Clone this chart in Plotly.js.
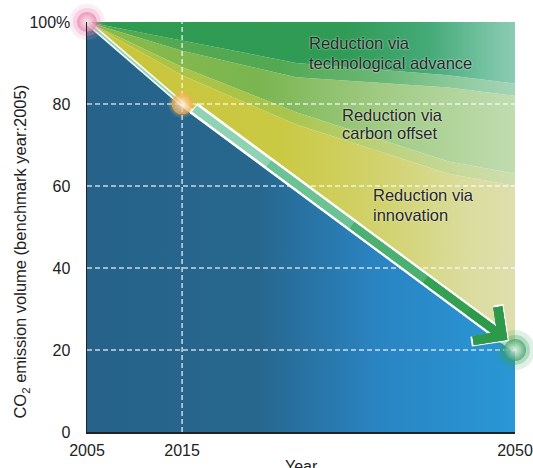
<!DOCTYPE html>
<html>
<head>
<meta charset="utf-8">
<script src="https://cdn.plot.ly/plotly-3.0.1.min.js"></script>
<style>html,body{margin:0;padding:0;background:#fff;}#chart{width:533px;height:468px;}</style>
</head>
<body>
<div id="chart"></div>
<script>
// ---- data ----
var years = [2005, 2015, 2050];
var emission = [100, 80, 20];            // CO2 emission volume (2005 = 100)

// band boundaries of the reduction areas
var bandYears = [2005, 2015, 2027, 2043, 2050];
var innovTop  = [100, 87, 75, 63, 60];   // upper edge of "innovation" band
var offsetLow = [100, 89, 78, 66, 63];   // lower edge of "carbon offset" band
var offsetTop = [100, 93, 86.5, 84, 82]; // upper edge of "carbon offset" band
var techLow   = [100, 95.5, 90, 87, 85]; // lower edge of "technological advance" band

var xTicks = [2005, 2015, 2050];
var xTickText = ['2005', '2015', '2050'];
var yTicks = [0, 20, 40, 60, 80, 100];
var yTickText = ['0', '20', '40', '60', '80', '100%'];
var gridY = [20, 40, 60, 80];
var gridX = [2015];

var labelLines = ['Reduction via', 'technological advance',
                  'Reduction via', 'carbon offset',
                  'Reduction via', 'innovation'];
var labelX = [2028.1, 2028.1, 2031.6, 2031.6, 2034.9, 2034.9];
var labelY = [94.9, 90.1, 77.3, 72.9, 57.8, 52.9];

var xRange = [xTicks[0], xTicks[xTicks.length - 1]];
var yRange = [yTicks[0], yTicks[yTicks.length - 1]];

function rev(a) { return a.slice().reverse(); }
function band(xLow, yLow, xHigh, yHigh, scale) {
  return {
    x: xLow.concat(rev(xHigh)), y: yLow.concat(rev(yHigh)),
    type: 'scatter', mode: 'lines', fill: 'toself',
    line: {width: 0, color: 'rgba(0,0,0,0)'},
    fillgradient: {type: 'horizontal', colorscale: scale},
    hoverinfo: 'skip', showlegend: false
  };
}

var traces = [];

// blue area under emission path
traces.push({
  x: years, y: emission, type: 'scatter', mode: 'lines', fill: 'tozeroy',
  line: {width: 0, color: 'rgba(0,0,0,0)'},
  fillgradient: {type: 'horizontal', colorscale: [
    [0, '#26628a'], [0.4, '#27678e'], [0.68, '#2a84c2'], [1, '#2a97d6']]},
  hoverinfo: 'skip', showlegend: false
});

// innovation band
traces.push(band(years, emission, bandYears, innovTop,
  [[0, '#c9c53a'], [0.45, '#cac943'], [0.7, '#d2d370'], [0.88, '#dadc9c'], [1, '#dedfae']]));
// transition innovation -> offset
traces.push(band(bandYears, innovTop, bandYears, offsetLow,
  [[0, '#b0c240'], [0.45, '#a8c44a'], [0.7, '#bcd27e'], [1, '#cfdeb0']]));
// carbon offset band
traces.push(band(bandYears, offsetLow, bandYears, offsetTop,
  [[0, '#8cbc48'], [0.4, '#7ab550'], [0.7, '#a2cc86'], [1, '#c0dcb0']]));
// transition offset -> tech
traces.push(band(bandYears, offsetTop, bandYears, techLow,
  [[0, '#55a850'], [0.45, '#52a952'], [0.7, '#6cb878'], [0.88, '#90cca0'], [1, '#a6d4b8']]));
// technological advance band
traces.push(band(bandYears, techLow, xRange, [yRange[1], yRange[1]],
  [[0, '#2f9a52'], [0.6, '#2f9b54'], [0.8, '#45aa78'], [0.92, '#70c09e'], [1, '#8ccbb4']]));

// dashed grid lines
gridY.forEach(function (v) {
  traces.push({x: xRange, y: [v, v], type: 'scatter', mode: 'lines',
    line: {color: 'rgba(255,255,255,0.75)', width: 1.5, dash: '5px,3px'},
    hoverinfo: 'skip', showlegend: false});
});
gridX.forEach(function (v) {
  traces.push({x: [v, v], y: yRange, type: 'scatter', mode: 'lines',
    line: {color: 'rgba(255,255,255,0.75)', width: 1.5, dash: '5px,3px'},
    hoverinfo: 'skip', showlegend: false});
});

// white emission path line
traces.push({x: years, y: emission, type: 'scatter', mode: 'lines',
  line: {color: '#ffffff', width: 5}, hoverinfo: 'skip', showlegend: false});
// thin mint line along the first segment
traces.push({x: years.slice(0, 2), y: emission.slice(0, 2), type: 'scatter', mode: 'lines',
  line: {color: 'rgba(140,210,180,0.9)', width: 2}, hoverinfo: 'skip', showlegend: false});

// sphere glows
traces.push({x: years, y: emission, type: 'scatter', mode: 'markers', cliponaxis: false,
  marker: {size: [36, 28, 40], color: ['rgba(236,140,180,0.22)', 'rgba(240,180,90,0.18)', 'rgba(50,160,90,0.22)'], line: {width: 0}},
  hoverinfo: 'skip', showlegend: false});
traces.push({x: years, y: emission, type: 'scatter', mode: 'markers', cliponaxis: false,
  marker: {size: [28, 24, 30], color: ['rgba(236,140,180,0.4)', 'rgba(240,180,90,0.3)', 'rgba(50,160,90,0.4)'], line: {width: 0}},
  hoverinfo: 'skip', showlegend: false});

var annotations = [];
// arrow: white outline then green shaft (offset slightly above the path)
var arrowShift = {x: 2, y: 3};
annotations.push({x: years[2], y: emission[2], ax: years[1], ay: emission[1], axref: 'x', ayref: 'y',
  xref: 'x', yref: 'y', text: '', showarrow: true, arrowhead: 4, arrowsize: 0.68, arrowwidth: 13,
  arrowcolor: '#ffffff', standoff: 10, startstandoff: 10, xshift: arrowShift.x, yshift: arrowShift.y});
annotations.push({x: years[2], y: emission[2], ax: years[1], ay: emission[1], axref: 'x', ayref: 'y',
  xref: 'x', yref: 'y', text: '', showarrow: true, arrowhead: 4, arrowsize: 1, arrowwidth: 8,
  arrowcolor: '#8fd3b4', standoff: 12, startstandoff: 11, xshift: arrowShift.x, yshift: arrowShift.y});
[[0.25, '#6cc294'], [0.5, '#4cb070'], [0.72, '#34a052'], [0.85, '#2c9a4a']].forEach(function (s) {
  var sx = years[1] + s[0] * (years[2] - years[1]);
  var sy = emission[1] + s[0] * (emission[2] - emission[1]);
  annotations.push({x: years[2], y: emission[2], ax: sx, ay: sy, axref: 'x', ayref: 'y',
    xref: 'x', yref: 'y', text: '', showarrow: true, arrowhead: 4, arrowsize: 1, arrowwidth: 8,
    arrowcolor: s[1], standoff: 12, xshift: arrowShift.x, yshift: arrowShift.y});
});

labelLines.forEach(function (t, i) {
  annotations.push({x: labelX[i], y: labelY[i], xref: 'x', yref: 'y', text: t, showarrow: false,
    xanchor: 'left', yanchor: 'middle', align: 'left',
    font: {family: 'Liberation Sans, Arial, sans-serif', size: 16.5, color: '#262626',
      shadow: '0px 0px 2px rgba(255,255,255,0.9)'}});
});

// axis titles
annotations.push({x: 0, y: 0.44, xref: 'paper', yref: 'paper', xshift: -66, xanchor: 'center', yanchor: 'middle',
  textangle: -90, showarrow: false, text: 'CO<sub>2</sub> emission volume (benchmark year:2005)',
  font: {family: 'Liberation Sans, Arial, sans-serif', size: 16.5, color: '#222'}});
annotations.push({x: 0.5, y: 0, xref: 'paper', yref: 'paper', yshift: -24, xanchor: 'center', yanchor: 'top',
  showarrow: false, text: 'Year',
  font: {family: 'Liberation Sans, Arial, sans-serif', size: 16, color: '#222'}});

var layout = {
  width: 533, height: 468,
  margin: {l: 87, r: 18, t: 22, b: 36},
  paper_bgcolor: '#ffffff', plot_bgcolor: '#ffffff',
  showlegend: false,
  font: {family: 'Liberation Sans, Arial, sans-serif', size: 16, color: '#222'},
  xaxis: {range: xRange, tickvals: xTicks, ticktext: xTickText, showgrid: false, zeroline: false,
    showline: true, linecolor: '#222', linewidth: 1.5, ticks: '', ticklabelstandoff: 3,
    tickfont: {size: 16, color: '#222'}, fixedrange: true},
  yaxis: {range: yRange, tickvals: yTicks, ticktext: yTickText, showgrid: false, zeroline: false,
    showline: true, linecolor: '#222', linewidth: 1.5, ticks: '', ticklabelstandoff: 12,
    tickfont: {size: 16, color: '#222'}, fixedrange: true},
  annotations: annotations
};

Plotly.newPlot('chart', traces, layout, {displayModeBar: false, staticPlot: true}).then(function () {
  // spheres drawn last
  Plotly.addTraces('chart', [{x: years, y: emission, type: 'scatter', mode: 'markers', cliponaxis: false,
    marker: {size: [20, 21, 22], color: ['#e47ea4', '#f2aa44', '#3c9e64'],
      gradient: {type: 'radial', color: ['#fdf0f4', '#fff8ea', '#f2faf4']}, line: {width: 0}},
    hoverinfo: 'skip', showlegend: false}]);
});
</script>
</body>
</html>
